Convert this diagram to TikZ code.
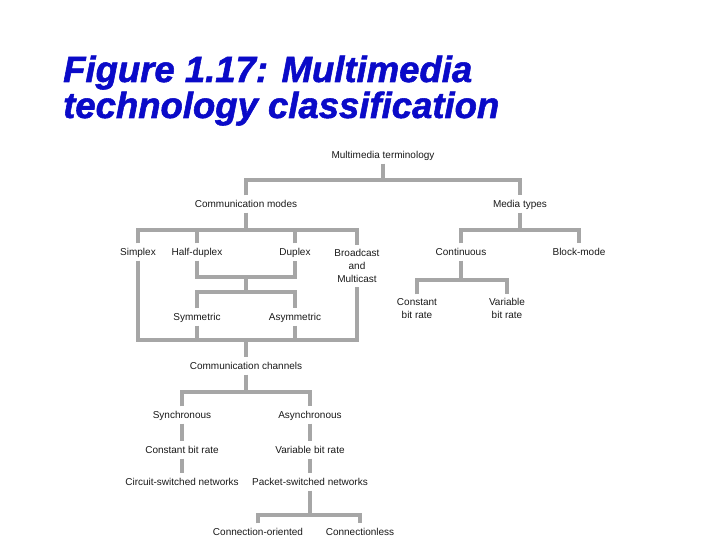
\documentclass[tikz,border=0pt]{standalone}
\usepackage{fontspec}
\setmainfont{Liberation Sans}
\newfontfamily\titlefont{Liberation Sans}[BoldItalicFeatures={FakeBold=1.5}]
\definecolor{bargray}{RGB}{166,166,166}
\definecolor{titleblue}{RGB}{10,10,200}
\begin{document}
\begin{tikzpicture}[x=1pt,y=-1pt,
  lbl/.style={inner xsep=1pt,inner ysep=4pt,text height=8pt,text depth=1pt,
    font=\fontsize{10}{13}\selectfont,text=black!90},
  mlbl/.style={inner xsep=1pt,inner ysep=4pt,align=center,
    font=\fontsize{10}{13}\selectfont,text=black!90},
  bar/.style={draw=bargray,line width=4pt,line join=miter},
  ttl/.style={anchor=base west,inner sep=0pt,text=titleblue,
    font=\titlefont\fontsize{36.5}{37}\selectfont\bfseries\itshape}]
\useasboundingbox (0,0) rectangle (720,540);
% title
\node[ttl] (title1) at (63,82) {Figure 1.17: Multimedia};
\node[ttl] (title2) at (63,118) {technology classification};
% nodes
\node[lbl] (root) at (383,155) {Multimedia terminology};
\node[lbl] (cm) at (246,204) {Communication modes};
\node[lbl] (mt) at (520,204) {Media types};
\node[lbl] (simplex) at (138,252) {Simplex};
\node[lbl] (half) at (197,252) {Half-duplex};
\node[lbl] (duplex) at (295,252) {Duplex};
\node[mlbl] (bc) at (357,266) {Broadcast\\and\\Multicast};
\node[lbl] (cont) at (461,252) {Continuous};
\node[lbl] (block) at (579,252) {Block-mode};
\node[mlbl] (cbr1) at (417,308.5) {Constant\\bit rate};
\node[mlbl] (vbr1) at (507,308.5) {Variable\\bit rate};
\node[lbl] (sym) at (197,317) {Symmetric};
\node[lbl] (asym) at (295,317) {Asymmetric};
\node[lbl] (cc) at (246,366) {Communication channels};
\node[lbl] (sync) at (182,415) {Synchronous};
\node[lbl] (async) at (310,415) {Asynchronous};
\node[lbl] (cbr) at (182,450) {Constant bit rate};
\node[lbl] (vbr) at (310,450) {Variable bit rate};
\node[lbl] (csn) at (182,482) {Circuit-switched networks};
\node[lbl] (psn) at (310,482) {Packet-switched networks};
\node[lbl] (co) at (258,532) {Connection-oriented};
\node[lbl] (cl) at (360,532) {Connectionless};
% bus coordinates
\coordinate (b1) at (383,180);
\coordinate (b2) at (246,230);
\coordinate (b3) at (520,230);
\coordinate (b4) at (461,280);
\coordinate (b5) at (246,277);
\coordinate (b6) at (246,292);
\coordinate (b7) at (246,340);
\coordinate (b8) at (246,392);
\coordinate (b9) at (310,515);
% connectors
\draw[bar] (root.south) -- (b1);
\draw[bar] (cm.north) |- (b1) -| (mt.north);
\draw[bar] (cm.south) -- (b2);
\draw[bar] (simplex.north) |- (b2) -| (bc.north);
\draw[bar] (half.north) -- (half.north |- b2);
\draw[bar] (duplex.north) -- (duplex.north |- b2);
\draw[bar] (mt.south) -- (b3);
\draw[bar] (cont.north) |- (b3) -| (block.north);
\draw[bar] (cont.south) -- (b4);
\draw[bar] (cbr1.north) |- (b4) -| (vbr1.north);
\draw[bar] (half.south) |- (b5) -| (duplex.south);
\draw[bar] (b5) -- (b6);
\draw[bar] (sym.north) |- (b6) -| (asym.north);
\draw[bar] (simplex.south) |- (b7) -| (bc.south);
\draw[bar] (sym.south) -- (sym.south |- b7);
\draw[bar] (asym.south) -- (asym.south |- b7);
\draw[bar] (b7) -- (cc.north);
\draw[bar] (cc.south) -- (b8);
\draw[bar] (sync.north) |- (b8) -| (async.north);
\draw[bar] (sync.south) -- (cbr.north);
\draw[bar] (cbr.south) -- (csn.north);
\draw[bar] (async.south) -- (vbr.north);
\draw[bar] (vbr.south) -- (psn.north);
\draw[bar] (psn.south) -- (b9);
\draw[bar] (co.north) |- (b9) -| (cl.north);
\end{tikzpicture}
\end{document}
